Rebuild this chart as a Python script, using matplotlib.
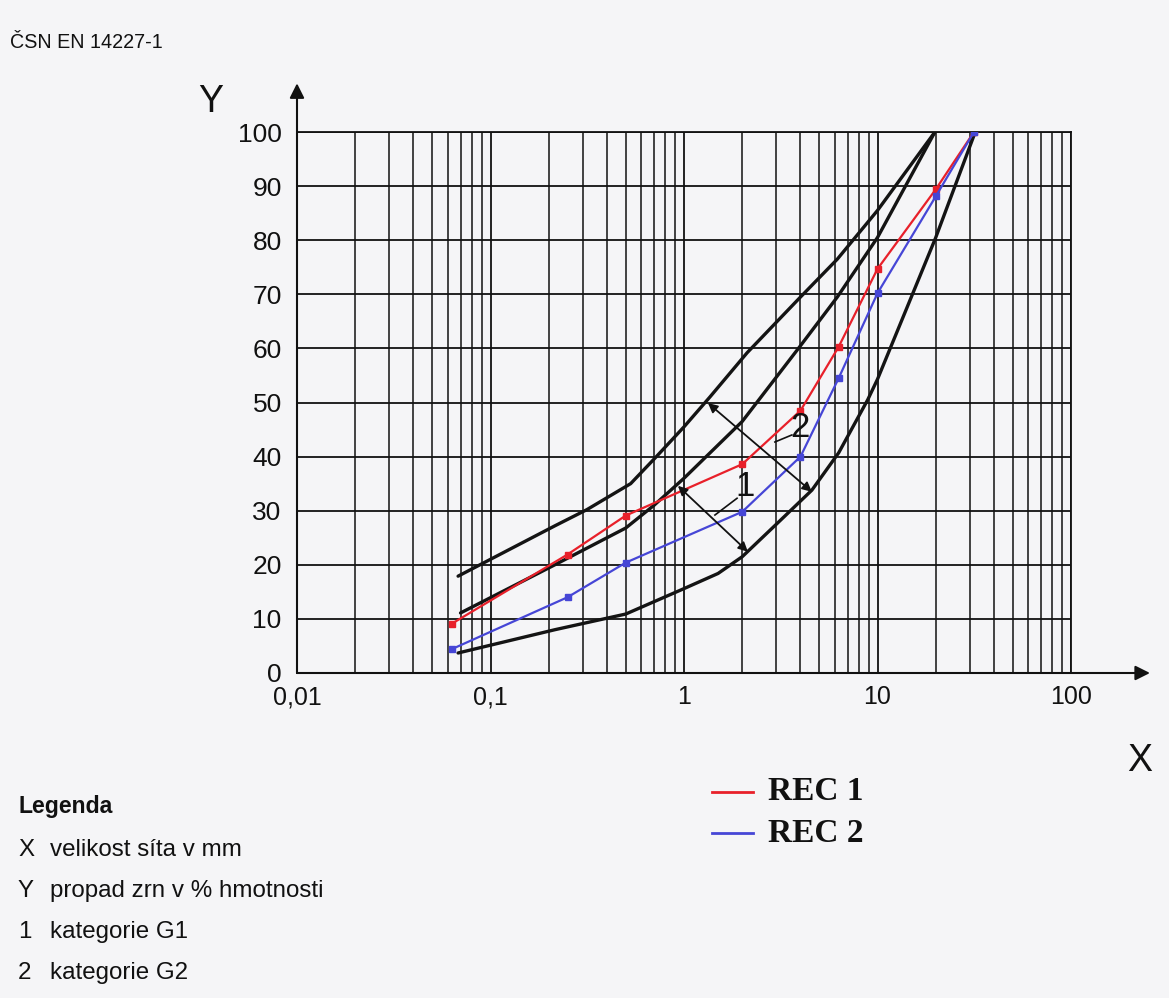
import matplotlib
matplotlib.use("Agg")
import matplotlib.pyplot as plt
from matplotlib.ticker import LogLocator, FixedLocator, NullFormatter

# ---------------- data ----------------
sieve = [0.063, 0.25, 0.5, 2, 4, 6.3, 10, 20, 31.5]
rec1 = [9.1, 21.9, 29.1, 38.6, 48.5, 60.3, 74.7, 89.4, 100]
rec2 = [4.4, 14.0, 20.4, 29.8, 40.0, 54.5, 70.2, 88.1, 100]

# envelope curves
g2_upper_x = [0.068, 0.215, 0.315, 0.53, 0.72, 1.0, 1.36, 2.12, 4.0, 6.2, 10, 19.8]
g2_upper_y = [17.9, 27.2, 30.2, 35.0, 40.0, 45.5, 51.0, 59.2, 69.5, 76.5, 85.5, 100]
g1_upper_x = [0.070, 0.215, 0.5, 0.7, 1.0, 2.0, 4.0, 6.2, 10, 19.8]
g1_upper_y = [11.1, 20.0, 26.8, 31.0, 36.0, 46.5, 60.5, 69.5, 80.5, 100]
lower_x = [0.068, 0.215, 0.5, 1.0, 1.5, 2.0, 3.0, 4.58, 6.3, 8.9, 10, 14, 20, 32]
lower_y = [3.7, 8.0, 10.9, 15.6, 18.4, 21.5, 27.5, 33.8, 40.7, 50.5, 54.3, 67.0, 80.5, 100]

x_ticks = [0.01, 0.1, 1, 10, 100]
x_labels = ["0,01", "0,1", "1", "10", "100"]
y_ticks = [0, 10, 20, 30, 40, 50, 60, 70, 80, 90, 100]

legend_items = [("X", "velikost síta v mm"),
                ("Y", "propad zrn v % hmotnosti"),
                ("1", "kategorie G1"),
                ("2", "kategorie G2")]

# ---------------- figure ----------------
W, H = 1169, 998
BG = "#f5f5f7"
INK = "#111111"
plt.rcParams["font.family"] = ["Liberation Sans", "DejaVu Sans"]
fig = plt.figure(figsize=(W / 100, H / 100), dpi=100, facecolor=BG)

L, R, B, T = 297, 1071, 673, 132
ax = fig.add_axes([L / W, 1 - B / H, (R - L) / W, (B - T) / H])
ax.set_facecolor(BG)
ax.set_xscale("log")
ax.set_xlim(0.01, 100)
ax.set_ylim(0, 100)

ax.xaxis.set_major_locator(FixedLocator(x_ticks))
ax.xaxis.set_minor_locator(LogLocator(base=10, subs=range(2, 10), numticks=50))
ax.xaxis.set_minor_formatter(NullFormatter())
ax.set_xticklabels(x_labels)
ax.set_yticks(y_ticks)
ax.set_yticklabels([str(v) for v in y_ticks])
ax.tick_params(which="both", length=0, colors=INK)
ax.tick_params(axis="x", pad=9, labelsize=18)
ax.tick_params(axis="y", pad=11, labelsize=19)

ax.grid(which="major", axis="both", color=INK, lw=1.3)
ax.grid(which="minor", axis="x", color=INK, lw=1.1)
for s in ax.spines.values():
    s.set_color(INK)
    s.set_linewidth(1.3)

# axis arrows
ax.annotate("", xy=(0, 1.09), xytext=(0, 0), xycoords="axes fraction",
            arrowprops=dict(arrowstyle="-|>", lw=1.5, color=INK,
                            mutation_scale=22, shrinkA=0, shrinkB=0))
ax.annotate("", xy=(1.102, 0), xytext=(0, 0), xycoords="axes fraction",
            arrowprops=dict(arrowstyle="-|>", lw=1.5, color=INK,
                            mutation_scale=22, shrinkA=0, shrinkB=0))
ax.text(-0.112, 1.055, "Y", transform=ax.transAxes, fontsize=27,
        ha="center", va="center", color=INK)
ax.text(1.089, -0.162, "X", transform=ax.transAxes, fontsize=27,
        ha="center", va="center", color=INK)

# envelope curves
for xs, ys in [(g2_upper_x, g2_upper_y), (g1_upper_x, g1_upper_y), (lower_x, lower_y)]:
    ax.plot(xs, ys, color="#141414", lw=2.4, solid_capstyle="round",
            solid_joinstyle="round", zorder=3)

# measured gradings
ax.plot(sieve, rec1, color="#e8202a", lw=1.6, marker="s", ms=4, zorder=4)
ax.plot(sieve, rec2, color="#4646d6", lw=1.6, marker="s", ms=4, zorder=4)

# category arrows and labels
arr = dict(arrowstyle="<|-|>", lw=1.3, color=INK, mutation_scale=14,
           shrinkA=0, shrinkB=0)
ax.annotate("", xy=(2.14, 22.4), xytext=(0.93, 34.6), arrowprops=arr, zorder=5)
ax.annotate("", xy=(4.58, 33.5), xytext=(1.33, 49.9), arrowprops=arr, zorder=5)
ax.plot([1.445, 1.88], [29.2, 32.3], color=INK, lw=1.2, zorder=5)
ax.plot([2.95, 3.61], [42.7, 44.0], color=INK, lw=1.2, zorder=5)
ax.text(2.07, 34.4, "1", fontsize=25, ha="center", va="center", color=INK, zorder=6)
ax.text(3.98, 45.3, "2", fontsize=25, ha="center", va="center", color=INK, zorder=6)

# title
fig.text(10 / W, 1 - 42 / H, "ČSN EN 14227-1", fontsize=14.2, va="center",
         ha="left", color=INK)

# Legenda
fig.text(18 / W, 1 - 806 / H, "Legenda", fontsize=16.6, fontweight="bold",
         va="center", ha="left", color=INK)
for i, (sym, desc) in enumerate(legend_items):
    yy = 1 - (850 + i * 41) / H
    fig.text(18 / W, yy, sym, fontsize=17.4, va="center", ha="left", color=INK)
    fig.text(50 / W, yy, desc, fontsize=17.4, va="center", ha="left", color=INK)

# REC legend
for yy, col, lab in [(792, "#e8202a", "REC 1"), (833, "#4646d6", "REC 2")]:
    fig.add_artist(plt.Line2D([712 / W, 753 / W], [1 - yy / H, 1 - yy / H],
                              color=col, lw=2, transform=fig.transFigure))
    fig.text(768 / W, 1 - yy / H, lab, fontsize=24, fontweight="bold",
             family=["Liberation Serif", "DejaVu Serif"], va="center",
             ha="left", color=INK)

fig.savefig("out.png", dpi=100, facecolor=BG)
